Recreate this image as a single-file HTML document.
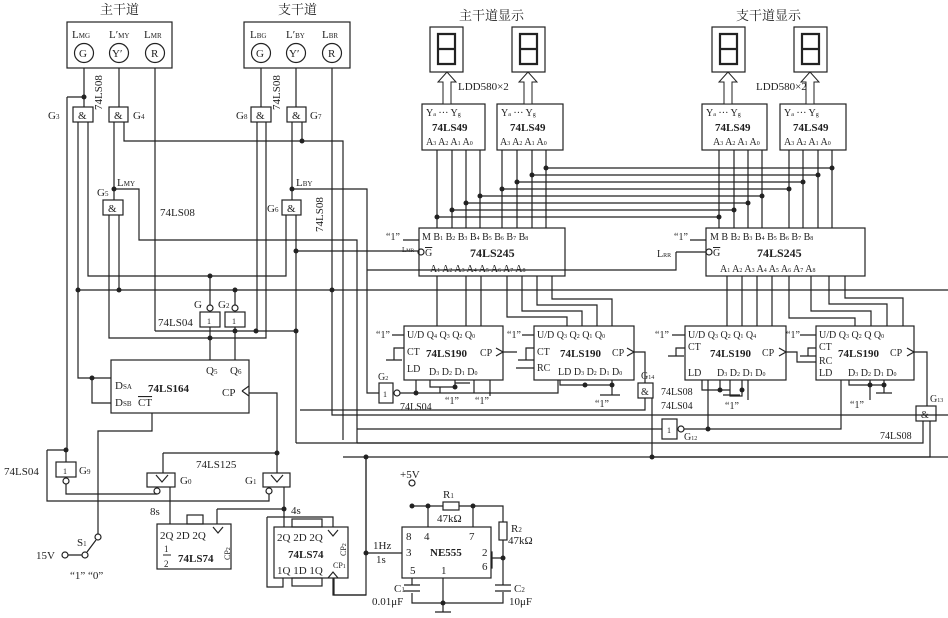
<!DOCTYPE html>
<html><head><meta charset="utf-8"><style>
html,body{margin:0;padding:0;background:#fff;}
svg{display:block;}
text{font-family:"Liberation Serif","Noto Serif CJK SC",serif;fill:#222;}
.b{font-weight:bold;}
</style></head><body>
<svg width="948" height="618" viewBox="0 0 948 618" xmlns="http://www.w3.org/2000/svg">
<g stroke="#222" stroke-width="1.2" fill="none">
<rect x="67" y="22" width="105" height="46"/>
<rect x="244" y="22" width="106" height="46"/>
<circle cx="84" cy="53" r="9.5"/><circle cx="119" cy="53" r="9.5"/><circle cx="155" cy="53" r="9.5"/>
<circle cx="261" cy="53" r="9.5"/><circle cx="296" cy="53" r="9.5"/><circle cx="332" cy="53" r="9.5"/>
<rect x="73" y="107" width="20" height="15"/><rect x="109" y="107" width="19" height="15"/>
<rect x="251" y="107" width="20" height="15"/><rect x="287" y="107" width="19" height="15"/>
<rect x="103" y="200" width="20" height="15"/><rect x="282" y="200" width="19" height="15"/>
<rect x="200" y="312" width="20" height="15"/><rect x="225" y="312" width="20" height="15"/>
<circle cx="210" cy="308" r="3"/><circle cx="235" cy="308" r="3"/>
<path d="M84 68V107M119 68V107M155 68V331M261 68V107M296 68V107M332 68V290"/>
<path d="M67 97H84M67 97V450M47 450H66M66 450V462M47 450V501H269V494"/>
<path d="M66 484V494H157"/>
<path d="M78 122V290M88 122V276H286V215M114 122V200M124 122V141H343V440M302 141V122"/>
<path d="M114 189H139V240H357V443"/>
<path d="M109 215V338H266V122M119 215V290"/>
<path d="M257 122V331M292 122V200M296 215V331M292 189H367V393H379"/>
<path d="M296 251H418"/>
<path d="M78 290H948"/>
<path d="M155 331H296M210 276V305M235 290V305M210 327V360M235 327V360"/>
<path d="M332 290V415H948M357 443H640M296 331V443M343 457H948M366 457V595H334V578"/>
<rect x="111" y="360" width="138" height="53"/>
<path d="M249 393H277V473M163 453H277M163 453V473"/>
<path d="M111 378H92V393M92 393V403H111"/>
<path d="M78 290V378H92"/>
<path d="M152 413V431H98V534"/>
<path d="M242 391L249 386M242 391L249 396"/>
<rect x="56" y="462" width="20" height="15"/><circle cx="66" cy="481" r="3"/>
<rect x="147" y="473" width="28" height="14"/><rect x="263" y="473" width="27" height="14"/>
<path d="M156 475L162 482L168 475M271 475L277 482L283 475"/>
<circle cx="157" cy="491" r="3"/><circle cx="269" cy="491" r="3"/>
<path d="M170 487V524M284 487V527M217 509H284M217 509V524M267 517H333V527M267 517V587H283V578M333 578V595H366"/>
<rect x="157" y="524" width="74" height="45"/>
<rect x="274" y="527" width="74" height="51"/>
<rect x="187" y="515" width="16" height="9"/>
<rect x="292" y="519" width="30" height="8"/><rect x="292" y="578" width="30" height="8"/>
<path d="M213 527L218 533L223 527M328 530L333 536L338 530M328 578L333 572L338 578"/>
<circle cx="98" cy="537" r="3"/><circle cx="85" cy="555" r="3"/><circle cx="65" cy="555" r="3"/>
<path d="M68 555H82M87 552L96 540"/>
<rect x="402" y="527" width="89" height="51"/>
<circle cx="412" cy="483" r="3"/>
<path d="M412 506H443M459 506H503V522M503 540V585M503 592V603H412V593M412 585V578M428 506V527M473 506V527M443 578V612M435 612H451M491 552H492V568H491M492 558H503"/>
<rect x="443" y="502" width="16" height="8"/><rect x="499" y="522" width="8" height="18"/>
<path d="M404 585H420M404 591H420M495 585H511M495 591H511"/>
<path d="M366 457V553H402"/>
<rect x="430" y="27" width="33" height="45"/><rect x="512" y="27" width="33" height="45"/>
<rect x="712" y="27" width="33" height="45"/><rect x="794" y="27" width="33" height="45"/>
<rect x="422" y="104" width="63" height="46"/><rect x="497" y="104" width="66" height="46"/>
<rect x="702" y="104" width="65" height="46"/><rect x="780" y="104" width="66" height="46"/>
<path d="M437 150V228M452 150V228M466 150V228M480 150V228M502 150V228M517 150V228M532 150V228M546 150V228"/>
<path d="M719 150V228M734 150V228M748 150V228M762 150V228M789 150V228M803 150V228M818 150V228M832 150V228"/>
<path d="M546 168H832M532 175H818M517 182H803M502 189H789M480 196H762M466 203H748M452 210H734M437 217H719"/>
<rect x="419" y="228" width="146" height="48"/><rect x="706" y="228" width="159" height="48"/>
<circle cx="421" cy="252" r="3"/><circle cx="709" cy="252" r="3"/>
<path d="M403 240H419M690 240H706M676 252H706M676 252V270H367"/>
<path d="M437 276V326M466 276V326M481 276V326M507 276V317H567V326M522 276V311H582V326M537 276V305H597V326M552 276V299H612V326"/>
<path d="M727 276V326M742 276V326M757 276V326M772 276V326M789 276V318H855V326M811 276V311H871V326M829 276V304H887V326M845 276V298H903V326"/>
<rect x="404" y="326" width="99" height="54"/><rect x="534" y="326" width="100" height="54"/>
<rect x="685" y="326" width="101" height="54"/><rect x="816" y="326" width="98" height="54"/>
<path d="M392 335H404M522 335H534M672 335H685M800 335H816"/>
<path d="M404 348H394V360M386 360H402M534 348H526V360M518 360H534M685 348H676V356M668 356H684M816 348H808V356M800 356H816"/>
<path d="M516 368H534"/>
<path d="M503 352H517M634 352H645V383M786 352H797V362H816M914 352H927V406"/>
<path d="M496 348L503 352L496 356M627 348L634 352L627 356M779 348L786 352L779 356M907 348L914 352L907 356"/>
<path d="M430 380V387H455V380M440 387V393M455 383H470M474 380V393M490 380V396"/>
<path d="M560 380V385H612V380M612 385V395M600 395H620"/>
<path d="M702 380V390H730V380M720 380V390M730 390V396H742V380M723 395H740"/>
<path d="M849 380V385H884V380M870 380V385M884 385V393M876 393H892"/>
<rect x="379" y="383" width="14" height="20"/><circle cx="397" cy="393" r="3"/>
<path d="M400 393H558V380M416 393V380"/>
<rect x="638" y="383" width="15" height="15"/>
<path d="M645 398V410H300M652 398V457"/>
<rect x="662" y="419" width="15" height="20"/><circle cx="681" cy="429" r="3"/>
<path d="M357 429H662M684 429H841V380M708 429V380"/>
<rect x="916" y="406" width="20" height="15"/>
<path d="M296 443H923V421M652 457H930V421"/>
<path d="M748 380V400M870 380V400"/>
</g>
<g stroke="#222" stroke-width="1" fill="#fff">
<path d="M443 104V82H438L447 72L456 82H451V104Z"/><path d="M524 104V82H519L528 72L537 82H532V104Z"/>
<path d="M724 104V82H719L728 72L737 82H732V104Z"/><path d="M806 104V82H801L810 72L819 82H814V104Z"/>
</g>
<g stroke="#222" stroke-width="2.2" fill="none">
<path d="M438 34H455V64H438ZM438 49H455"/><path d="M520 34H537V64H520ZM520 49H537"/>
<path d="M720 34H737V64H720ZM720 49H737"/><path d="M802 34H819V64H802ZM802 49H819"/>
</g>
<g fill="#222">
<circle cx="84" cy="97" r="2.5"/><circle cx="302" cy="141" r="2.5"/><circle cx="114" cy="189" r="2.5"/><circle cx="292" cy="189" r="2.5"/>
<circle cx="296" cy="251" r="2.5"/><circle cx="210" cy="276" r="2.5"/><circle cx="78" cy="290" r="2.5"/><circle cx="119" cy="290" r="2.5"/>
<circle cx="235" cy="290" r="2.5"/><circle cx="332" cy="290" r="2.5"/><circle cx="210" cy="338" r="2.5"/><circle cx="235" cy="331" r="2.5"/>
<circle cx="256" cy="331" r="2.5"/><circle cx="296" cy="331" r="2.5"/><circle cx="92" cy="378" r="2.5"/><circle cx="66" cy="450" r="2.5"/>
<circle cx="277" cy="453" r="2.5"/><circle cx="284" cy="509" r="2.5"/><circle cx="366" cy="457" r="2.5"/><circle cx="366" cy="553" r="2.5"/>
<circle cx="412" cy="506" r="2.5"/><circle cx="428" cy="506" r="2.5"/><circle cx="473" cy="506" r="2.5"/><circle cx="503" cy="558" r="2.5"/><circle cx="443" cy="603" r="2.5"/>
<circle cx="546" cy="168" r="2.5"/><circle cx="832" cy="168" r="2.5"/><circle cx="532" cy="175" r="2.5"/><circle cx="818" cy="175" r="2.5"/>
<circle cx="517" cy="182" r="2.5"/><circle cx="803" cy="182" r="2.5"/><circle cx="502" cy="189" r="2.5"/><circle cx="789" cy="189" r="2.5"/>
<circle cx="480" cy="196" r="2.5"/><circle cx="762" cy="196" r="2.5"/><circle cx="466" cy="203" r="2.5"/><circle cx="748" cy="203" r="2.5"/>
<circle cx="452" cy="210" r="2.5"/><circle cx="734" cy="210" r="2.5"/><circle cx="437" cy="217" r="2.5"/><circle cx="719" cy="217" r="2.5"/>
<circle cx="416" cy="393" r="2.5"/><circle cx="455" cy="387" r="2.5"/><circle cx="585" cy="385" r="2.5"/><circle cx="612" cy="385" r="2.5"/>
<circle cx="708" cy="429" r="2.5"/><circle cx="652" cy="457" r="2.5"/><circle cx="720" cy="390" r="2.5"/><circle cx="742" cy="390" r="2.5"/>
<circle cx="870" cy="385" r="2.5"/><circle cx="884" cy="385" r="2.5"/>
</g>
<g font-size="13">
<text x="100" y="14">主干道</text><text x="278" y="14">支干道</text>
<text x="459" y="20">主干道显示</text><text x="736" y="20">支干道显示</text>
</g>
<g font-size="11">
<text x="72" y="38">L<tspan font-size="7">MG</tspan></text><text x="109" y="38">L′<tspan font-size="7">MY</tspan></text><text x="144" y="38">L<tspan font-size="7">MR</tspan></text>
<text x="250" y="38">L<tspan font-size="7">BG</tspan></text><text x="286" y="38">L′<tspan font-size="7">BY</tspan></text><text x="322" y="38">L<tspan font-size="7">BR</tspan></text>
<text x="79" y="57">G</text><text x="112" y="57">Y′</text><text x="151" y="57">R</text>
<text x="256" y="57">G</text><text x="289" y="57">Y′</text><text x="328" y="57">R</text>
<text x="78" y="119">&amp;</text><text x="114" y="119">&amp;</text><text x="256" y="119">&amp;</text><text x="292" y="119">&amp;</text>
<text x="108" y="212">&amp;</text><text x="287" y="212">&amp;</text>
<text x="48" y="119">G<tspan font-size="7">3</tspan></text><text x="133" y="119">G<tspan font-size="7">4</tspan></text>
<text x="236" y="119">G<tspan font-size="7">8</tspan></text><text x="310" y="119">G<tspan font-size="7">7</tspan></text>
<text x="97" y="196">G<tspan font-size="7">5</tspan></text><text x="267" y="212">G<tspan font-size="7">6</tspan></text>
<text x="117" y="186">L<tspan font-size="7">MY</tspan></text><text x="296" y="186">L<tspan font-size="7">BY</tspan></text>
<text x="160" y="216">74LS08</text>
<text transform="translate(102,110) rotate(-90)">74LS08</text>
<text transform="translate(280,110) rotate(-90)">74LS08</text>
<text transform="translate(323,232) rotate(-90)">74LS08</text>
<text x="194" y="308">G</text><text x="218" y="308">G<tspan font-size="7">2</tspan></text>
<text x="207" y="324" font-size="8">1</text><text x="232" y="324" font-size="8">1</text>
<text x="158" y="326">74LS04</text>
<text x="206" y="374">Q<tspan font-size="7">5</tspan></text><text x="230" y="374">Q<tspan font-size="7">6</tspan></text>
<text x="115" y="389">D<tspan font-size="7">SA</tspan></text><text x="115" y="406">D<tspan font-size="7">SB</tspan></text>
<text x="138" y="406" text-decoration="overline">CT</text>
<text x="148" y="392" class="b">74LS164</text><text x="222" y="396">CP</text>
<text x="4" y="475">74LS04</text><text x="63" y="474" font-size="8">1</text><text x="79" y="474">G<tspan font-size="7">9</tspan></text>
<text x="196" y="468">74LS125</text><text x="180" y="484">G<tspan font-size="7">0</tspan></text><text x="245" y="484">G<tspan font-size="7">1</tspan></text>
<text x="150" y="515">8s</text><text x="291" y="514">4s</text>
<text x="160" y="539">2Q 2D 2Q</text><text x="178" y="562" class="b">74LS74</text>
<text x="164" y="552" font-size="9">1</text><text x="164" y="567" font-size="9">2</text><path d="M163 555H171" stroke="#222"/>
<text transform="translate(230,560) rotate(-90)" font-size="8">CP<tspan font-size="6">2</tspan></text>
<text x="277" y="541">2Q 2D 2Q</text><text x="288" y="558" class="b">74LS74</text><text x="277" y="574">1Q 1D 1Q</text>
<text x="333" y="568" font-size="8">CP<tspan font-size="6">1</tspan></text>
<text transform="translate(346,556) rotate(-90)" font-size="8">CP<tspan font-size="6">2</tspan></text>
<text x="77" y="546">S<tspan font-size="7">1</tspan></text><text x="36" y="559">15V</text><text x="70" y="579">“1” “0”</text>
<text x="400" y="478">+5V</text>
<text x="443" y="498">R<tspan font-size="7">1</tspan></text><text x="437" y="522">47kΩ</text>
<text x="511" y="532">R<tspan font-size="7">2</tspan></text><text x="508" y="544">47kΩ</text>
<text x="406" y="540">8</text><text x="424" y="540">4</text><text x="469" y="540">7</text>
<text x="406" y="556">3</text><text x="430" y="556" class="b">NE555</text><text x="482" y="556">2</text><text x="482" y="570">6</text>
<text x="410" y="574">5</text><text x="441" y="574">1</text>
<text x="373" y="549">1Hz</text><text x="376" y="563">1s</text>
<text x="394" y="592">C<tspan font-size="7">1</tspan></text><text x="372" y="605">0.01μF</text>
<text x="514" y="592">C<tspan font-size="7">2</tspan></text><text x="509" y="605">10μF</text>
<text x="458" y="90">LDD580×2</text><text x="756" y="90">LDD580×2</text>
</g>
<g font-size="10">
<text x="426" y="116">Y<tspan font-size="6">a</tspan>   ···   Y<tspan font-size="6">g</tspan></text>
<text x="501" y="116">Y<tspan font-size="6">a</tspan>   ···   Y<tspan font-size="6">g</tspan></text>
<text x="706" y="116">Y<tspan font-size="6">a</tspan>   ···   Y<tspan font-size="6">g</tspan></text>
<text x="784" y="116">Y<tspan font-size="6">a</tspan>   ···   Y<tspan font-size="6">g</tspan></text>
<text x="432" y="131" class="b" font-size="11">74LS49</text><text x="510" y="131" class="b" font-size="11">74LS49</text>
<text x="715" y="131" class="b" font-size="11">74LS49</text><text x="793" y="131" class="b" font-size="11">74LS49</text>
<text x="426" y="145">A<tspan font-size="6">3</tspan> A<tspan font-size="6">2</tspan> A<tspan font-size="6">1</tspan> A<tspan font-size="6">0</tspan></text>
<text x="500" y="145">A<tspan font-size="6">3</tspan> A<tspan font-size="6">2</tspan> A<tspan font-size="6">1</tspan> A<tspan font-size="6">0</tspan></text>
<text x="713" y="145">A<tspan font-size="6">3</tspan> A<tspan font-size="6">2</tspan> A<tspan font-size="6">1</tspan> A<tspan font-size="6">0</tspan></text>
<text x="784" y="145">A<tspan font-size="6">3</tspan> A<tspan font-size="6">2</tspan> A<tspan font-size="6">1</tspan> A<tspan font-size="6">0</tspan></text>
<text x="422" y="240">M B<tspan font-size="6">1</tspan> B<tspan font-size="6">2</tspan> B<tspan font-size="6">3</tspan> B<tspan font-size="6">4</tspan>  B<tspan font-size="6">5</tspan> B<tspan font-size="6">6</tspan> B<tspan font-size="6">7</tspan> B<tspan font-size="6">8</tspan></text>
<text x="425" y="256" text-decoration="overline">G</text><text x="470" y="257" class="b" font-size="12">74LS245</text>
<text x="430" y="272">A<tspan font-size="6">1</tspan> A<tspan font-size="6">2</tspan> A<tspan font-size="6">3</tspan> A<tspan font-size="6">4</tspan>  A<tspan font-size="6">5</tspan> A<tspan font-size="6">6</tspan> A<tspan font-size="6">7</tspan> A<tspan font-size="6">8</tspan></text>
<text x="710" y="240">M B  B<tspan font-size="6">2</tspan> B<tspan font-size="6">3</tspan> B<tspan font-size="6">4</tspan>  B<tspan font-size="6">5</tspan> B<tspan font-size="6">6</tspan> B<tspan font-size="6">7</tspan> B<tspan font-size="6">8</tspan></text>
<text x="713" y="256" text-decoration="overline">G</text><text x="757" y="257" class="b" font-size="12">74LS245</text>
<text x="720" y="272">A<tspan font-size="6">1</tspan> A<tspan font-size="6">2</tspan> A<tspan font-size="6">3</tspan> A<tspan font-size="6">4</tspan> A<tspan font-size="6">5</tspan>  A<tspan font-size="6">6</tspan>  A<tspan font-size="6">7</tspan> A<tspan font-size="6">8</tspan></text>
<text x="386" y="240">“1”</text><text x="402" y="252" font-size="7">L<tspan font-size="5">MR</tspan></text>
<text x="674" y="240">“1”</text><text x="657" y="257">L<tspan font-size="6">RR</tspan></text>
<text x="407" y="338">U/D Q<tspan font-size="6">4</tspan> Q<tspan font-size="6">3</tspan> Q<tspan font-size="6">2</tspan>  Q<tspan font-size="6">0</tspan></text>
<text x="407" y="355">CT</text><text x="426" y="357" class="b" font-size="11">74LS190</text><text x="480" y="356">CP</text>
<text x="407" y="372">LD</text><text x="429" y="375">D<tspan font-size="6">3</tspan> D<tspan font-size="6">2</tspan> D<tspan font-size="6">1</tspan> D<tspan font-size="6">0</tspan></text>
<text x="537" y="338">U/D Q<tspan font-size="6">3</tspan> Q<tspan font-size="6">2</tspan> Q<tspan font-size="6">1</tspan> Q<tspan font-size="6">0</tspan></text>
<text x="537" y="355">CT</text><text x="560" y="357" class="b" font-size="11">74LS190</text><text x="612" y="356">CP</text>
<text x="537" y="371">RC</text><text x="558" y="375">LD D<tspan font-size="6">3</tspan> D<tspan font-size="6">2</tspan> D<tspan font-size="6">1</tspan> D<tspan font-size="6">0</tspan></text>
<text x="688" y="338">U/D   Q<tspan font-size="6">3</tspan> Q<tspan font-size="6">2</tspan> Q<tspan font-size="6">1</tspan> Q<tspan font-size="6">4</tspan></text>
<text x="688" y="350">CT</text><text x="710" y="357" class="b" font-size="11">74LS190</text><text x="762" y="356">CP</text>
<text x="688" y="376">LD</text><text x="717" y="376">D<tspan font-size="6">3</tspan> D<tspan font-size="6">2</tspan> D<tspan font-size="6">1</tspan> D<tspan font-size="6">0</tspan></text>
<text x="819" y="338">U/D  Q<tspan font-size="6">3</tspan> Q<tspan font-size="6">2</tspan> Q  Q<tspan font-size="6">0</tspan></text>
<text x="819" y="350">CT</text><text x="838" y="357" class="b" font-size="11">74LS190</text><text x="890" y="356">CP</text>
<text x="819" y="364">RC</text><text x="819" y="376">LD</text><text x="848" y="376">D<tspan font-size="6">3</tspan> D<tspan font-size="6">2</tspan> D<tspan font-size="6">1</tspan> D<tspan font-size="6">0</tspan></text>
<text x="376" y="338">“1”</text><text x="507" y="338">“1”</text><text x="655" y="338">“1”</text><text x="786" y="338">“1”</text>
<text x="378" y="380">G<tspan font-size="6">2</tspan></text><text x="383" y="397" font-size="8">1</text>
<text x="400" y="410">74LS04</text><text x="445" y="404">“1”</text><text x="475" y="404">“1”</text>
<text x="595" y="407">“1”</text><text x="725" y="409">“1”</text><text x="850" y="408">“1”</text>
<text x="641" y="395">&amp;</text><text x="641" y="379">G<tspan font-size="6">14</tspan></text>
<text x="661" y="395">74LS08</text><text x="661" y="409">74LS04</text>
<text x="667" y="433" font-size="8">1</text><text x="684" y="440">G<tspan font-size="6">12</tspan></text>
<text x="921" y="418">&amp;</text><text x="930" y="402">G<tspan font-size="6">13</tspan></text><text x="880" y="439">74LS08</text>
</g>
</svg>
</body></html>
